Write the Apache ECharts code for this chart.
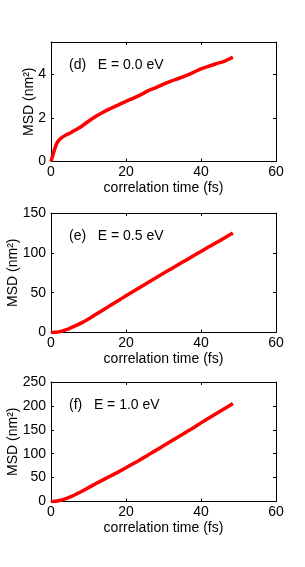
<!DOCTYPE html>
<html>
<head>
<meta charset="utf-8">
<script src="https://cdn.jsdelivr.net/npm/echarts@6/dist/echarts.min.js"></script>
<style>
html,body{margin:0;padding:0;background:#fff;}
#c{width:305px;height:567px;}
</style>
</head>
<body>
<div id="c"></div>
<script>
var timeFs = [0, 0.5, 1, 1.5, 2, 2.5, 3, 4, 5, 6, 7, 8, 10, 12, 14, 16, 18, 20, 22, 24, 26, 28, 30, 32, 34, 36, 38, 40, 42, 44, 46, 48, 48.5];
var msdD = [0, 0.3, 0.58, 0.82, 0.96, 1.05, 1.12, 1.22, 1.30, 1.40, 1.50, 1.60, 1.85, 2.08, 2.28, 2.45, 2.61, 2.77, 2.92, 3.08, 3.26, 3.40, 3.56, 3.70, 3.82, 3.95, 4.10, 4.26, 4.38, 4.50, 4.60, 4.76, 4.80];
var msdE = [0, 0.05, 0.2, 0.45, 0.8, 1.2, 1.7, 3.5, 5.3, 7.3, 9.5, 11.8, 17, 22.8, 28.6, 34.5, 40.3, 46, 51.8, 57.5, 63, 68.7, 74.3, 79.8, 85.3, 90.8, 96.3, 101.8, 107.2, 112.6, 118.0, 123.5, 125];
var msdF = [0, 0.1, 0.4, 0.9, 1.6, 2.5, 3.5, 6, 9, 12.5, 16.5, 20.5, 29, 37.5, 45.8, 54, 62, 70.5, 79.5, 88.5, 98, 107, 116.5, 126, 135.5, 145, 154.5, 164.5, 174, 183.5, 193, 202.5, 205];
var xTicks = {min: 0, max: 60, interval: 20};
var panels = [
  {label: '(d)   E = 0.0 eV', values: msdD, yMin: 0, yMax: 5.5, yInterval: 2, top: 42, nameGap: 15},
  {label: '(e)   E = 0.5 eV', values: msdE, yMin: 0, yMax: 150, yInterval: 50, top: 213, nameGap: 31},
  {label: '(f)   E = 1.0 eV', values: msdF, yMin: 0, yMax: 250, yInterval: 50, top: 382, nameGap: 31}
];
var xName = 'correlation time (fs)';
var yName = 'MSD (nm²)';

var FONT = 'Liberation Sans, Arial, Helvetica, sans-serif';
var gridH = 119.5;
var grids = [], xAxes = [], yAxes = [], series = [], graphics = [];
var lineStyleAxis = {color: '#000', width: 1};
panels.forEach(function (p, i) {
  grids.push({left: 51, width: 225, top: p.top, height: gridH, containLabel: false, outerBoundsMode: 'none'});
  var base = {
    gridIndex: i, type: 'value', min: xTicks.min, max: xTicks.max, interval: xTicks.interval,
    axisLine: {show: true, onZero: false, lineStyle: lineStyleAxis},
    axisTick: {show: true, inside: true, length: 3, lineStyle: lineStyleAxis},
    splitLine: {show: false}
  };
  xAxes.push(Object.assign({}, base, {
    position: 'bottom',
    name: xName, nameLocation: 'middle', nameGap: 20, nameMoveOverlap: false,
    nameTextStyle: {fontFamily: FONT, fontSize: 14, color: '#000'},
    axisLabel: {show: true, margin: 4, fontFamily: FONT, fontSize: 14, color: '#000'}
  }));
  xAxes.push(Object.assign({}, base, {position: 'top', axisLabel: {show: false}}));
  var ybase = {
    gridIndex: i, type: 'value', min: p.yMin, max: p.yMax, interval: p.yInterval,
    axisLine: {show: true, onZero: false, lineStyle: lineStyleAxis},
    axisTick: {show: true, inside: true, length: 3, lineStyle: lineStyleAxis},
    splitLine: {show: false}
  };
  yAxes.push(Object.assign({}, ybase, {
    position: 'left',
    name: yName, nameLocation: 'middle', nameGap: p.nameGap, nameRotate: 90, nameMoveOverlap: false,
    nameTextStyle: {fontFamily: FONT, fontSize: 14, color: '#000'},
    axisLabel: {show: true, margin: 5, fontFamily: FONT, fontSize: 14, color: '#000',
      showMaxLabel: p.yMax % p.yInterval === 0}
  }));
  yAxes.push(Object.assign({}, ybase, {position: 'right', axisLabel: {show: false}}));
  series.push({
    type: 'line', xAxisIndex: 2 * i, yAxisIndex: 2 * i, showSymbol: false, smooth: 0.3,
    data: timeFs.map(function (t, k) { return [t, p.values[k]]; }),
    lineStyle: {color: '#ff0000', width: 3.5}, itemStyle: {color: '#ff0000'}, animation: false
  });
  graphics.push({
    type: 'text', left: 69, top: p.top + 16,
    style: {text: p.label, font: '14px ' + FONT, fill: '#000'}
  });
});
var chart = echarts.init(document.getElementById('c'), null, {renderer: 'canvas'});
chart.setOption({
  animation: false,
  backgroundColor: '#fff',
  grid: grids, xAxis: xAxes, yAxis: yAxes, series: series, graphic: graphics
});
</script>
</body>
</html>
